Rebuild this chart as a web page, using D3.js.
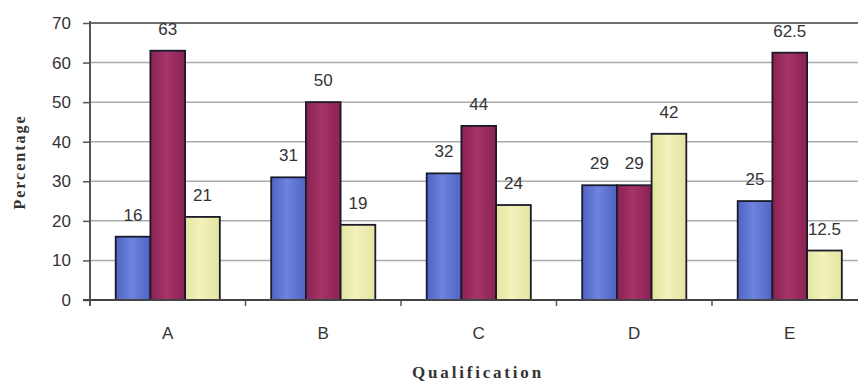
<!DOCTYPE html>
<html>
<head>
<meta charset="utf-8">
<script src="https://cdn.jsdelivr.net/npm/d3@7/dist/d3.min.js"></script>
<style>
  html, body { margin: 0; padding: 0; background: #fff; }
  svg { display: block; }
</style>
</head>
<body>
<svg id="chart" width="858" height="383"></svg>
<script>
// Percentage by qualification, three series per group
const categories = ["A", "B", "C", "D", "E"];
const series1 = [16, 31, 32, 29, 25];
const series2 = [63, 50, 44, 29, 62.5];
const series3 = [21, 19, 24, 42, 12.5];
const yTicks = [0, 10, 20, 30, 40, 50, 60, 70];
const yTitle = "Percentage";
const xTitle = "Qualification";

const seriesList = [series1, series2, series3];
const fills = ["url(#gBlue)", "url(#gRed)", "url(#gYellow)"];

const svg = d3.select("#chart");
const plotLeft = 90, plotTop = 23, plotBottom = 300;
const bandW = 155.5;
const sans = "Liberation Sans, Arial, sans-serif";
const serif = "Liberation Serif, Times New Roman, serif";

const x = d3.scaleBand()
  .domain(categories)
  .range([plotLeft, plotLeft + bandW * categories.length])
  .paddingInner(0).paddingOuter(0);
const inner = d3.scaleBand()
  .domain(d3.range(seriesList.length))
  .range([0, x.bandwidth()])
  .paddingOuter(0.74).paddingInner(0);
const y = d3.scaleLinear().domain([0, 70]).range([plotBottom, plotTop]);

// gradients for the bars
const defs = svg.append("defs");
function grad(id, edge, mid) {
  const g = defs.append("linearGradient").attr("id", id)
    .attr("x1", 0).attr("x2", 1).attr("y1", 0).attr("y2", 0);
  g.append("stop").attr("offset", "0%").attr("stop-color", edge);
  g.append("stop").attr("offset", "45%").attr("stop-color", mid);
  g.append("stop").attr("offset", "100%").attr("stop-color", edge);
}
grad("gBlue", "#4f63c4", "#6c84dc");
grad("gRed", "#8a2252", "#a5346a");
grad("gYellow", "#e4e4a0", "#f2f2bc");

// horizontal gridlines
svg.append("g").selectAll("line")
  .data(yTicks.filter(d => d > 0))
  .join("line")
  .attr("x1", plotLeft).attr("x2", 858)
  .attr("y1", d => y(d)).attr("y2", d => y(d))
  .attr("stroke", d => d === 70 ? "#6f6f6f" : "#ababab")
  .attr("stroke-width", d => d === 70 ? 2 : 1.5);

// y axis
const yAxis = d3.axisLeft(y).tickValues(yTicks).tickSize(7).tickPadding(12);
const gy = svg.append("g").attr("transform", `translate(${plotLeft},0)`).call(yAxis);
gy.select(".domain").remove();
gy.selectAll(".tick line").attr("stroke", "#555").attr("stroke-width", 1.5);
gy.selectAll(".tick text")
  .attr("font-family", sans)
  .attr("font-size", 17).attr("fill", "#333");
svg.append("line")
  .attr("x1", plotLeft).attr("x2", plotLeft).attr("y1", plotTop - 2).attr("y2", plotBottom + 6)
  .attr("stroke", "#555").attr("stroke-width", 2);

// bars
const groups = svg.append("g").selectAll("g")
  .data(categories)
  .join("g")
  .attr("transform", d => `translate(${x(d)},0)`);

groups.selectAll("rect")
  .data((c, i) => seriesList.map((s, k) => ({ k, v: s[i] })))
  .join("rect")
  .attr("x", d => inner(d.k))
  .attr("width", inner.bandwidth())
  .attr("y", d => y(d.v))
  .attr("height", d => y(0) - y(d.v))
  .attr("fill", d => fills[d.k])
  .attr("stroke", "#1a1a2a")
  .attr("stroke-width", 1.8);

groups.selectAll("text.val")
  .data((c, i) => seriesList.map((s, k) => ({ k, v: s[i] })))
  .join("text")
  .attr("class", "val")
  .attr("x", d => inner(d.k) + inner.bandwidth() / 2)
  .attr("y", d => y(d.v) - 16)
  .attr("text-anchor", "middle")
  .attr("font-family", sans)
  .attr("font-size", 17)
  .attr("fill", "#333")
  .text(d => d.v);

// x axis
const xAxis = d3.axisBottom(x).tickSize(0).tickPadding(27);
const gx = svg.append("g").attr("transform", `translate(0,${plotBottom})`).call(xAxis);
gx.select(".domain").remove();
gx.selectAll(".tick text")
  .attr("font-family", sans)
  .attr("font-size", 17).attr("fill", "#333");
svg.append("line")
  .attr("x1", plotLeft - 7).attr("x2", 858).attr("y1", plotBottom).attr("y2", plotBottom)
  .attr("stroke", "#444").attr("stroke-width", 2);
// separators between categories
svg.append("g").selectAll("line")
  .data(categories.slice(1))
  .join("line")
  .attr("x1", d => x(d)).attr("x2", d => x(d))
  .attr("y1", plotBottom).attr("y2", plotBottom + 6)
  .attr("stroke", "#555").attr("stroke-width", 1.5);

// axis titles
svg.append("text")
  .attr("transform", "translate(25,162) rotate(-90)")
  .attr("text-anchor", "middle")
  .attr("font-family", serif)
  .attr("font-weight", "bold")
  .attr("font-size", 16)
  .attr("letter-spacing", 2)
  .attr("fill", "#333")
  .text(yTitle);

svg.append("text")
  .attr("x", 478).attr("y", 378)
  .attr("text-anchor", "middle")
  .attr("font-family", serif)
  .attr("font-weight", "bold")
  .attr("font-size", 17)
  .attr("letter-spacing", 2.8)
  .attr("fill", "#333")
  .text(xTitle);
</script>
</body>
</html>
